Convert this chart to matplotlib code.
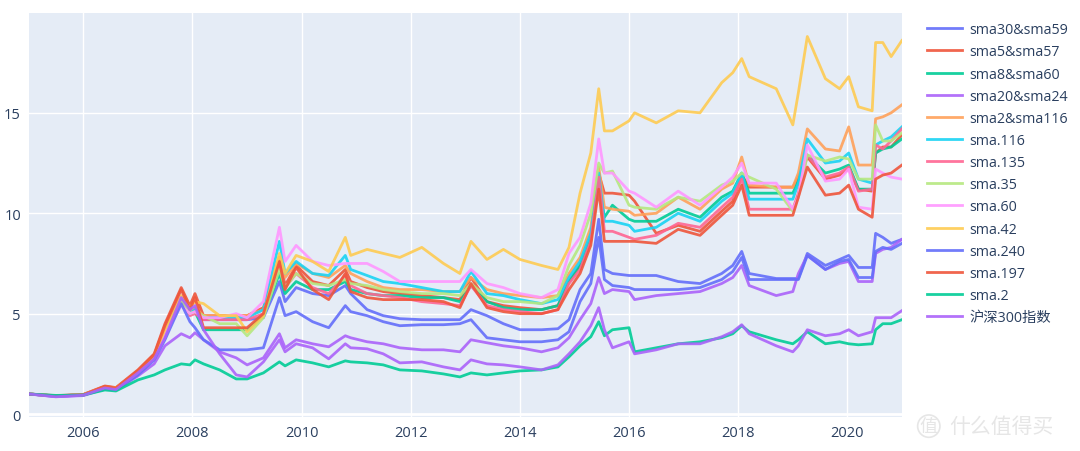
import matplotlib
matplotlib.use("Agg")
import matplotlib.pyplot as plt
import matplotlib.dates as mdates
import pandas as pd

plt.rcParams['font.family'] = ['Open Sans', 'Noto Sans CJK SC', 'DejaVu Sans']

# sample dates (shared by every series)
dates = pd.to_datetime([
    "2005-01-04", "2005-07-01", "2006-01-01", "2006-05-25", "2006-08-07",
    "2007-01-01", "2007-04-20", "2007-07-01", "2007-10-18", "2007-12-15",
    "2008-01-18", "2008-03-15", "2008-07-01", "2008-10-20", "2009-01-01",
    "2009-04-20", "2009-08-05", "2009-09-12", "2009-11-25", "2010-03-15",
    "2010-07-01", "2010-10-20", "2010-11-25", "2011-03-15", "2011-07-01",
    "2011-10-20", "2012-03-15", "2012-08-07", "2012-11-25", "2013-02-07",
    "2013-05-25", "2013-09-12", "2014-01-01", "2014-05-25", "2014-09-12",
    "2014-11-25", "2015-02-07", "2015-04-20", "2015-06-12", "2015-07-20",
    "2015-09-12", "2016-01-01", "2016-02-07", "2016-07-01", "2016-11-25",
    "2017-04-20", "2017-09-12", "2017-11-25", "2018-01-24", "2018-03-15",
    "2018-09-12", "2019-01-01", "2019-02-07", "2019-04-08", "2019-08-07",
    "2019-11-10", "2020-01-10", "2020-03-15", "2020-06-15", "2020-07-08",
    "2020-08-25", "2020-10-20", "2020-12-31",
])

sma30_sma59 = [1.00, 0.90, 0.97, 1.30, 1.25, 2.00, 2.80, 4.00, 5.80, 5.00,
               5.20, 4.70, 4.70, 4.70, 4.70, 4.80, 6.60, 5.60, 6.30, 6.00,
               5.90, 6.40, 6.00, 5.20, 4.90, 4.75, 4.70, 4.70, 4.70, 5.20,
               4.90, 4.50, 4.20, 4.20, 4.25, 4.70, 6.20, 7.00, 9.70, 7.20,
               7.00, 6.90, 6.90, 6.90, 6.60, 6.50, 7.00, 7.40, 8.10, 7.00,
               6.75, 6.75, 6.75, 8.00, 7.40, 7.70, 7.90, 7.30, 7.30, 9.00,
               8.80, 8.50, 8.70]
sma5_sma57 = [1.00, 0.92, 0.98, 1.40, 1.32, 2.20, 3.00, 4.50, 6.30, 5.40,
              6.00, 4.90, 4.90, 4.90, 4.90, 5.30, 7.80, 6.40, 7.40, 6.60,
              6.40, 7.20, 6.60, 6.30, 6.10, 6.00, 5.90, 5.80, 5.70, 6.80,
              5.60, 5.40, 5.30, 5.20, 5.40, 6.60, 7.40, 8.80, 12.00, 11.00,
              11.00, 10.90, 10.60, 9.00, 9.40, 9.10, 10.10, 10.60, 11.90, 11.30,
              11.30, 11.30, 11.80, 12.80, 11.70, 11.90, 12.20, 11.20, 11.10, 13.00,
              13.30, 13.30, 13.90]
sma8_sma60 = [1.00, 0.90, 0.96, 1.32, 1.27, 2.05, 2.80, 4.00, 5.70, 5.00,
              5.10, 4.20, 4.20, 4.20, 4.20, 4.90, 7.00, 6.00, 6.60, 6.20,
              6.20, 6.60, 6.20, 6.00, 5.90, 5.90, 5.80, 5.80, 5.60, 6.40,
              5.60, 5.30, 5.20, 5.20, 5.40, 6.60, 7.40, 8.80, 11.50, 9.80,
              10.40, 9.70, 9.60, 9.60, 10.20, 9.80, 10.80, 11.10, 12.00, 11.00,
              11.00, 11.00, 11.60, 12.90, 12.00, 12.20, 12.40, 11.20, 11.20, 13.00,
              13.20, 13.30, 13.70]
sma20_sma24 = [1.00, 0.87, 0.92, 1.25, 1.20, 1.90, 2.50, 3.40, 4.00, 3.80,
               4.05, 3.70, 3.10, 2.80, 2.45, 2.80, 4.00, 3.30, 3.70, 3.50,
               3.35, 3.90, 3.80, 3.60, 3.50, 3.30, 3.20, 3.20, 3.10, 3.70,
               3.55, 3.40, 3.30, 3.10, 3.30, 3.80, 4.70, 5.50, 6.80, 6.00,
               6.20, 6.10, 5.70, 5.90, 6.00, 6.10, 6.50, 6.80, 7.40, 6.40,
               5.90, 6.10, 7.00, 7.90, 7.20, 7.50, 7.60, 6.60, 6.60, 8.00,
               8.20, 8.30, 8.70]
sma2_sma116 = [1.00, 0.90, 0.96, 1.32, 1.27, 2.05, 2.85, 4.10, 5.80, 5.10,
               5.30, 4.90, 4.90, 4.90, 4.90, 5.20, 7.80, 6.80, 7.50, 7.00,
               6.80, 7.40, 7.00, 6.60, 6.30, 6.20, 6.20, 6.10, 6.10, 6.80,
               6.20, 6.00, 5.90, 5.80, 5.90, 7.00, 7.80, 9.30, 12.30, 10.30,
               10.20, 10.10, 9.90, 10.00, 10.80, 10.20, 11.20, 11.50, 12.80, 11.40,
               11.30, 11.30, 12.00, 14.20, 13.20, 13.10, 14.30, 12.40, 12.40, 14.70,
               14.80, 15.00, 15.40]
sma_116 = [1.00, 0.90, 0.96, 1.32, 1.27, 2.05, 2.85, 4.10, 5.70, 5.00,
           5.20, 4.80, 4.80, 4.80, 4.80, 5.20, 8.60, 7.00, 7.60, 7.00,
           6.90, 7.90, 7.20, 6.90, 6.60, 6.50, 6.30, 6.10, 6.10, 7.10,
           6.00, 5.90, 5.70, 5.50, 5.70, 6.80, 7.60, 9.00, 12.00, 9.60,
           9.60, 9.40, 9.10, 9.30, 10.00, 9.60, 10.60, 11.00, 12.00, 10.70,
           10.70, 10.70, 11.50, 13.70, 12.50, 12.60, 13.00, 11.70, 11.50, 13.40,
           13.60, 13.80, 14.30]
sma_135 = [1.00, 0.89, 0.95, 1.30, 1.25, 2.00, 2.80, 4.00, 5.60, 4.90,
           5.00, 4.70, 4.70, 4.70, 4.70, 5.00, 7.50, 6.30, 7.00, 6.30,
           6.00, 6.90, 6.40, 6.00, 5.90, 5.80, 5.60, 5.50, 5.40, 6.40,
           5.40, 5.20, 5.10, 5.00, 5.20, 6.50, 7.20, 8.60, 11.80, 9.10,
           9.10, 8.80, 8.70, 8.90, 9.50, 9.30, 10.30, 10.80, 11.70, 10.20,
           10.20, 10.20, 11.00, 12.90, 11.80, 12.00, 12.30, 11.10, 11.20, 13.40,
           13.20, 13.60, 14.20]
sma_35 = [1.00, 0.90, 0.96, 1.32, 1.27, 2.05, 2.80, 4.00, 5.60, 5.00,
          5.10, 4.90, 4.50, 4.50, 3.90, 4.80, 7.20, 6.30, 7.00, 6.50,
          6.40, 6.70, 6.50, 6.40, 6.20, 6.10, 6.00, 6.00, 5.90, 6.50,
          5.80, 5.60, 5.60, 5.50, 5.90, 7.40, 8.40, 10.00, 12.50, 12.00,
          12.10, 10.40, 10.30, 10.20, 10.80, 10.60, 11.40, 11.60, 12.00, 11.80,
          11.20, 10.10, 10.80, 12.90, 12.60, 12.80, 12.70, 11.70, 11.70, 14.40,
          13.60, 13.60, 14.00]
sma_60 = [1.00, 0.90, 0.96, 1.33, 1.28, 2.05, 2.80, 4.00, 5.40, 5.00,
          5.10, 4.80, 4.80, 5.00, 4.80, 5.60, 9.30, 7.60, 8.40, 7.60,
          7.40, 7.50, 7.50, 7.50, 7.10, 6.60, 6.60, 6.60, 6.60, 7.20,
          6.50, 6.30, 6.00, 5.80, 6.20, 8.00, 8.80, 10.50, 13.70, 12.00,
          12.00, 11.10, 11.00, 10.30, 11.10, 10.40, 11.30, 11.80, 12.50, 11.50,
          11.50, 10.20, 10.80, 13.40, 11.60, 11.70, 12.20, 10.30, 10.20, 12.20,
          12.00, 11.80, 11.70]
sma_42 = [1.00, 0.90, 0.97, 1.35, 1.30, 2.10, 2.90, 4.20, 5.90, 5.30,
          5.60, 5.50, 4.90, 4.90, 4.10, 4.90, 8.00, 7.00, 7.90, 7.60,
          7.10, 8.80, 7.90, 8.20, 8.00, 7.80, 8.30, 7.50, 7.00, 8.60,
          7.70, 8.20, 7.70, 7.40, 7.20, 8.30, 11.00, 13.00, 16.20, 14.10,
          14.10, 14.60, 15.00, 14.50, 15.10, 15.00, 16.50, 17.00, 17.70, 16.80,
          16.20, 14.40, 16.00, 18.80, 16.70, 16.20, 16.80, 15.30, 15.10, 18.50,
          18.50, 17.80, 18.60]
sma_240 = [1.00, 0.88, 0.95, 1.28, 1.22, 1.95, 2.70, 3.70, 5.50, 4.60,
           4.30, 3.70, 3.20, 3.20, 3.20, 3.30, 5.80, 4.90, 5.10, 4.60,
           4.30, 5.40, 5.10, 4.90, 4.60, 4.40, 4.45, 4.45, 4.50, 4.70,
           3.80, 3.70, 3.60, 3.60, 3.70, 4.10, 5.60, 6.50, 8.80, 6.70,
           6.40, 6.30, 6.20, 6.20, 6.20, 6.30, 6.70, 7.10, 7.80, 6.70,
           6.70, 6.70, 6.70, 7.90, 7.20, 7.60, 7.70, 6.80, 6.80, 8.10,
           8.30, 8.20, 8.50]
sma_197 = [1.00, 0.91, 0.97, 1.38, 1.30, 2.15, 2.95, 4.40, 6.20, 5.20,
           5.80, 4.30, 4.30, 4.30, 4.30, 5.00, 7.60, 6.20, 7.30, 6.20,
           5.70, 7.00, 6.10, 5.80, 5.70, 5.70, 5.70, 5.60, 5.30, 6.50,
           5.30, 5.10, 5.00, 5.00, 5.20, 6.20, 7.00, 8.40, 11.20, 8.60,
           8.60, 8.60, 8.60, 8.50, 9.20, 8.90, 9.90, 10.40, 11.40, 9.90,
           9.90, 9.90, 10.80, 12.30, 10.90, 11.00, 11.40, 10.20, 9.80, 11.70,
           11.90, 12.00, 12.40]
sma_2 = [1.00, 0.93, 0.95, 1.20, 1.15, 1.70, 1.95, 2.20, 2.50, 2.45,
         2.70, 2.50, 2.20, 1.75, 1.75, 2.05, 2.60, 2.40, 2.70, 2.55,
         2.35, 2.65, 2.60, 2.55, 2.45, 2.20, 2.15, 2.00, 1.85, 2.05,
         1.95, 2.05, 2.15, 2.20, 2.35, 2.85, 3.40, 3.85, 4.60, 3.90,
         4.20, 4.30, 3.10, 3.30, 3.50, 3.60, 3.80, 4.00, 4.40, 4.10,
         3.70, 3.50, 3.70, 4.10, 3.50, 3.60, 3.50, 3.45, 3.50, 4.20,
         4.50, 4.50, 4.70]
hs300 = [1.00, 0.86, 0.94, 1.30, 1.22, 2.05, 2.75, 3.80, 5.80, 5.20,
         5.40, 4.20, 3.00, 1.95, 1.85, 2.60, 3.70, 3.10, 3.50, 3.30,
         2.75, 3.50, 3.30, 3.25, 3.00, 2.55, 2.60, 2.35, 2.20, 2.70,
         2.50, 2.45, 2.35, 2.20, 2.45, 3.00, 3.60, 4.40, 5.30, 4.20,
         3.30, 3.60, 3.00, 3.20, 3.50, 3.50, 3.85, 4.10, 4.45, 4.00,
         3.40, 3.10, 3.40, 4.20, 3.90, 4.00, 4.20, 3.90, 4.10, 4.80,
         4.80, 4.80, 5.15]

series = [
    ("sma30&sma59", sma30_sma59, "#636efa"),
    ("sma5&sma57", sma5_sma57, "#EF553B"),
    ("sma8&sma60", sma8_sma60, "#00cc96"),
    ("sma20&sma24", sma20_sma24, "#ab63fa"),
    ("sma2&sma116", sma2_sma116, "#FFA15A"),
    ("sma.116", sma_116, "#19d3f3"),
    ("sma.135", sma_135, "#FF6692"),
    ("sma.35", sma_35, "#B6E880"),
    ("sma.60", sma_60, "#FF97FF"),
    ("sma.42", sma_42, "#FECB52"),
    ("sma.240", sma_240, "#636efa"),
    ("sma.197", sma_197, "#EF553B"),
    ("sma.2", sma_2, "#00cc96"),
    ("沪深300指数", hs300, "#ab63fa"),
]

fig = plt.figure(figsize=(10.8, 4.52), dpi=100)
ax = fig.add_axes([0.0271, 0.075, 0.808, 0.894])
ax.set_facecolor("#E5ECF6")

for name, vals, color in series:
    ax.plot(dates, vals, color=color, linewidth=2, label=name, alpha=0.9)

ax.set_xlim(pd.Timestamp("2005-01-04"), pd.Timestamp("2020-12-31"))
ax.set_ylim(-0.15, 19.97)
ax.set_yticks([0, 5, 10, 15])
ax.xaxis.set_major_locator(mdates.YearLocator(2, month=1, day=1))
ax.xaxis.set_major_formatter(mdates.DateFormatter("%Y"))
ax.grid(True, color="white", linewidth=1)
ax.axhline(0, color="white", linewidth=2, zorder=0.5)
ax.set_axisbelow(True)
for s in ax.spines.values():
    s.set_visible(False)
ax.tick_params(length=0, labelsize=10.5, colors="#2a3f5f", pad=6)

fig.legend(loc="upper left", bbox_to_anchor=(0.846, 0.977), frameon=False,
           fontsize=10.3, handlelength=2.5, handletextpad=0.5,
           labelspacing=0.5, labelcolor="#2a3f5f")

# watermark
fig.text(0.860, 0.055, "值", fontsize=13, color="#e6e6e6", ha="center", va="center",
         bbox=dict(boxstyle="circle,pad=0.12", fc="none", ec="#e6e6e6", lw=1.2))
fig.text(0.879, 0.055, "什么值得买", fontsize=15, color="#e6e6e6", ha="left", va="center")

fig.savefig("out.png", dpi=100)
